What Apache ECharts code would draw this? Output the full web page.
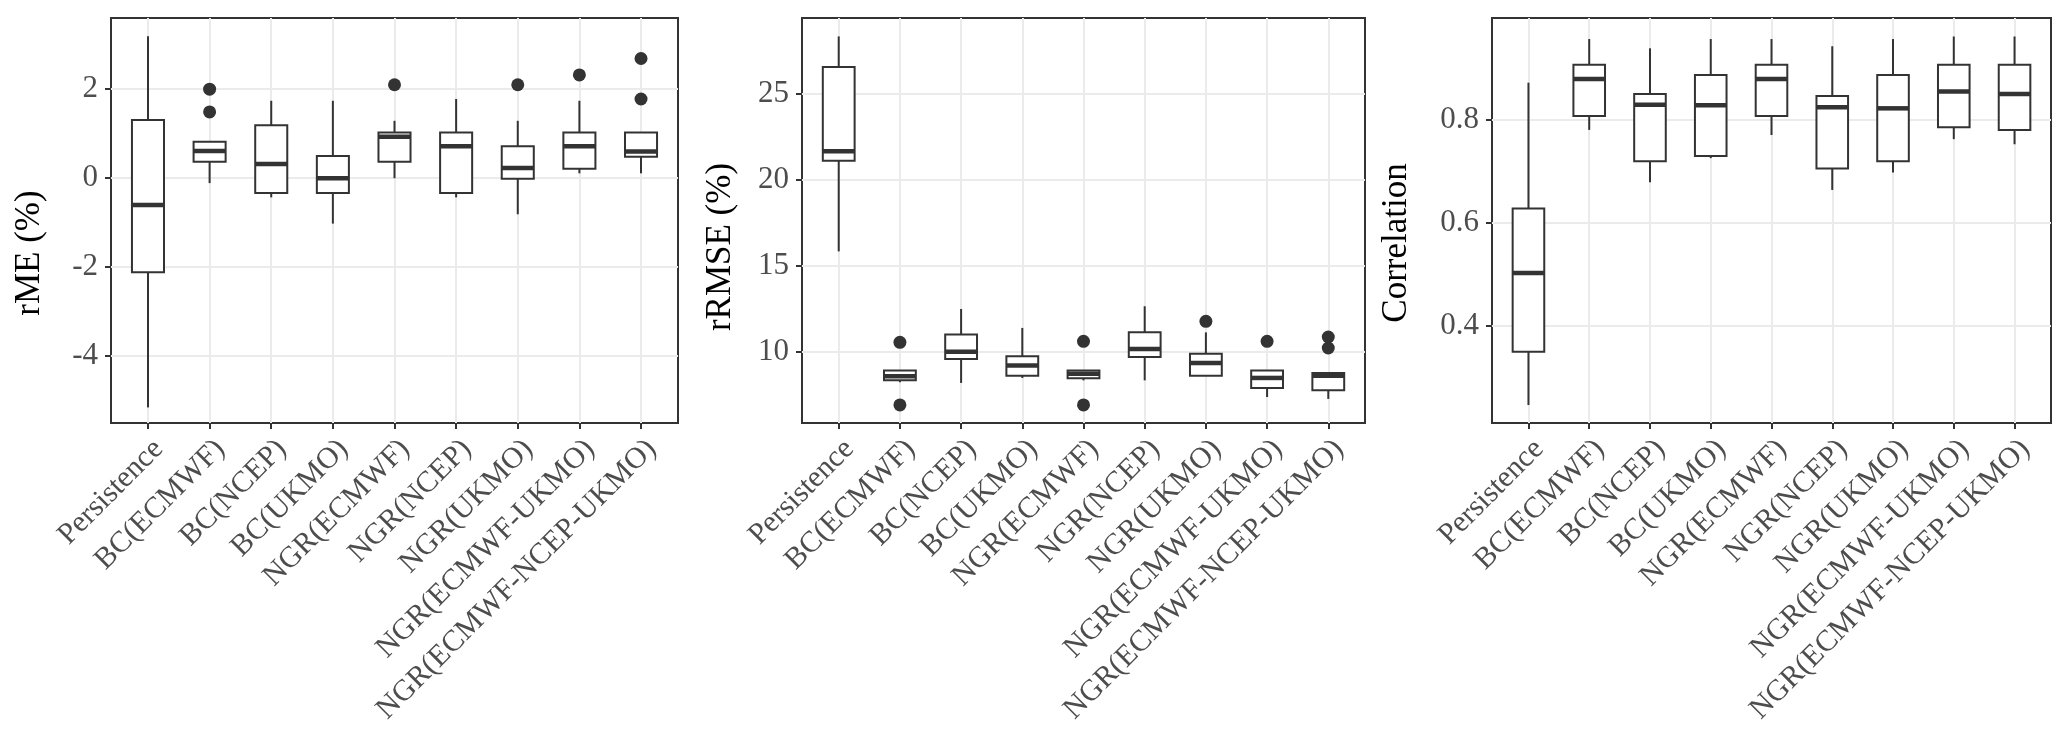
<!DOCTYPE html>
<html>
<head>
<meta charset="utf-8">
<script src="https://cdn.jsdelivr.net/npm/echarts@6/dist/echarts.min.js"></script>
<style>
html,body{margin:0;padding:0;background:#fff;}
#chart{width:2067px;height:754px;}
</style>
</head>
<body>
<div id="chart"></div>
<script>
const categories = ['Persistence','BC(ECMWF)','BC(NCEP)','BC(UKMO)','NGR(ECMWF)','NGR(NCEP)','NGR(UKMO)','NGR(ECMWF-UKMO)','NGR(ECMWF-NCEP-UKMO)'];

// [lower whisker, Q1, median, Q3, upper whisker]
const rmeBoxes = [
  [-5.15, -2.11, -0.60, 1.31, 3.19],
  [-0.11, 0.37, 0.61, 0.82, 0.82],
  [-0.43, -0.33, 0.32, 1.19, 1.74],
  [-1.02, -0.33, 0.00, 0.50, 1.74],
  [0.00, 0.37, 0.93, 1.03, 1.29],
  [-0.43, -0.33, 0.72, 1.03, 1.78],
  [-0.81, -0.01, 0.23, 0.72, 1.29],
  [0.11, 0.21, 0.72, 1.03, 1.74],
  [0.11, 0.48, 0.60, 1.03, 1.03]
];
const rmeOutliers = [[1, 2.00], [1, 1.49], [4, 2.10], [6, 2.10], [7, 2.32], [8, 2.69], [8, 1.78]];

const rrmseBoxes = [
  [15.83, 21.10, 21.65, 26.55, 28.33],
  [8.22, 8.33, 8.57, 8.91, 8.91],
  [8.18, 9.57, 10.00, 10.99, 12.48],
  [8.47, 8.60, 9.19, 9.73, 11.38],
  [8.33, 8.45, 8.72, 8.91, 8.91],
  [8.33, 9.69, 10.16, 11.12, 12.64],
  [8.60, 8.60, 9.34, 9.88, 11.12],
  [7.36, 7.89, 8.47, 8.91, 8.91],
  [7.25, 7.75, 8.60, 8.76, 8.76]
];
const rrmseOutliers = [[1, 10.54], [1, 6.90], [4, 10.60], [4, 6.90], [6, 11.76], [7, 10.60], [8, 10.85], [8, 10.21]];

const corrBoxes = [
  [0.245, 0.349, 0.502, 0.628, 0.873],
  [0.781, 0.808, 0.880, 0.908, 0.958],
  [0.679, 0.720, 0.830, 0.851, 0.940],
  [0.726, 0.730, 0.829, 0.888, 0.958],
  [0.771, 0.808, 0.880, 0.908, 0.958],
  [0.664, 0.706, 0.825, 0.847, 0.944],
  [0.698, 0.720, 0.823, 0.888, 0.958],
  [0.763, 0.786, 0.856, 0.908, 0.963],
  [0.753, 0.781, 0.851, 0.908, 0.963]
];
const corrOutliers = [];

const rmeTicks = [-4, -2, 0, 2];
const rrmseTicks = [10, 15, 20, 25];
const corrTicks = [0.4, 0.6, 0.8];

const panelTitles = ['rME (%)', 'rRMSE (%)', 'Correlation'];

const FONT = '"Liberation Serif", "Times New Roman", serif';
const panels = [
  {left: 111, width: 567, ymin: -5.5, ymax: 3.6, ticks: rmeTicks, boxes: rmeBoxes, out: rmeOutliers, fmt: v => String(v), title: panelTitles[0], tx: 30, ty: 253},
  {left: 802, width: 563, ymin: 5.85, ymax: 29.4, ticks: rrmseTicks, boxes: rrmseBoxes, out: rrmseOutliers, fmt: v => String(v), title: panelTitles[1], tx: 721, ty: 247},
  {left: 1492, width: 559, ymin: 0.21, ymax: 0.999, ticks: corrTicks, boxes: corrBoxes, out: corrOutliers, fmt: v => v.toFixed(1), title: panelTitles[2], tx: 1397, ty: 243}
];
const TOP = 18, HEIGHT = 405;
const catIdx = categories.map((c, i) => i);

function renderBox(params, api) {
  const x = api.value(0);
  const lo = api.coord([x, api.value(1)]);
  const q1 = api.coord([x, api.value(2)]);
  const md = api.coord([x, api.value(3)]);
  const q3 = api.coord([x, api.value(4)]);
  const hi = api.coord([x, api.value(5)]);
  const bw = api.size([1, 0])[0] * 0.52;
  const cx = lo[0];
  const st = {stroke: '#333333', lineWidth: 2, fill: null};
  return {
    type: 'group',
    children: [
      {type: 'line', shape: {x1: cx, y1: hi[1], x2: cx, y2: q3[1]}, style: st},
      {type: 'line', shape: {x1: cx, y1: q1[1], x2: cx, y2: lo[1]}, style: st},
      {type: 'rect', shape: {x: cx - bw / 2, y: q3[1], width: bw, height: q1[1] - q3[1]}, style: {stroke: '#333333', lineWidth: 2, fill: '#ffffff'}},
      {type: 'line', shape: {x1: cx - bw / 2, y1: md[1], x2: cx + bw / 2, y2: md[1]}, style: {stroke: '#333333', lineWidth: 4.5}}
    ]
  };
}

const grids = [], xAxes = [], yAxes = [], series = [], graphics = [];
panels.forEach((p, k) => {
  grids.push({left: p.left, top: TOP, width: p.width, height: HEIGHT, show: true, borderColor: '#333333', borderWidth: 2, backgroundColor: '#ffffff', containLabel: false});
  xAxes.push({
    type: 'value', gridIndex: k, min: -0.6, max: 8.6, position: 'bottom',
    axisLine: {show: false, onZero: false},
    axisTick: {show: true, length: 6, customValues: catIdx, lineStyle: {color: '#333333', width: 2}},
    axisLabel: {
      show: true, customValues: catIdx, rotate: 45, margin: 11, align: 'right', verticalAlign: 'top',
      fontFamily: FONT, fontSize: 30, color: '#4d4d4d',
      formatter: v => categories[Math.round(v)] || ''
    },
    splitLine: {show: true, lineStyle: {color: '#ebebeb', width: 2}}
  });
  yAxes.push({
    type: 'value', gridIndex: k, min: p.ymin, max: p.ymax, position: 'left',
    axisLine: {show: false, onZero: false},
    axisTick: {show: true, length: 6, customValues: p.ticks, lineStyle: {color: '#333333', width: 2}},
    axisLabel: {show: true, customValues: p.ticks, margin: 13, fontFamily: FONT, fontSize: 31, color: '#4d4d4d', formatter: p.fmt},
    splitLine: {show: true, lineStyle: {color: '#ebebeb', width: 2}}
  });
  series.push({
    type: 'custom', xAxisIndex: k, yAxisIndex: k,
    renderItem: renderBox,
    encode: {x: 0, y: [1, 2, 3, 4, 5]},
    data: p.boxes.map((b, i) => [i].concat(b)),
    z: 3, silent: true
  });
  series.push({
    type: 'scatter', xAxisIndex: k, yAxisIndex: k,
    symbol: 'circle', symbolSize: 13,
    itemStyle: {color: '#333333', opacity: 1},
    data: p.out, z: 4, silent: true
  });
  graphics.push({
    type: 'text', x: p.tx, y: p.ty, rotation: Math.PI / 2,
    style: {text: p.title, fontFamily: FONT, fontSize: 35, fill: '#000000', align: 'center', verticalAlign: 'middle'}
  });
});

const chart = echarts.init(document.getElementById('chart'), null, {renderer: 'canvas'});
chart.setOption({
  animation: false,
  backgroundColor: '#ffffff',
  grid: grids,
  xAxis: xAxes,
  yAxis: yAxes,
  series: series,
  graphic: graphics
});
</script>
</body>
</html>
